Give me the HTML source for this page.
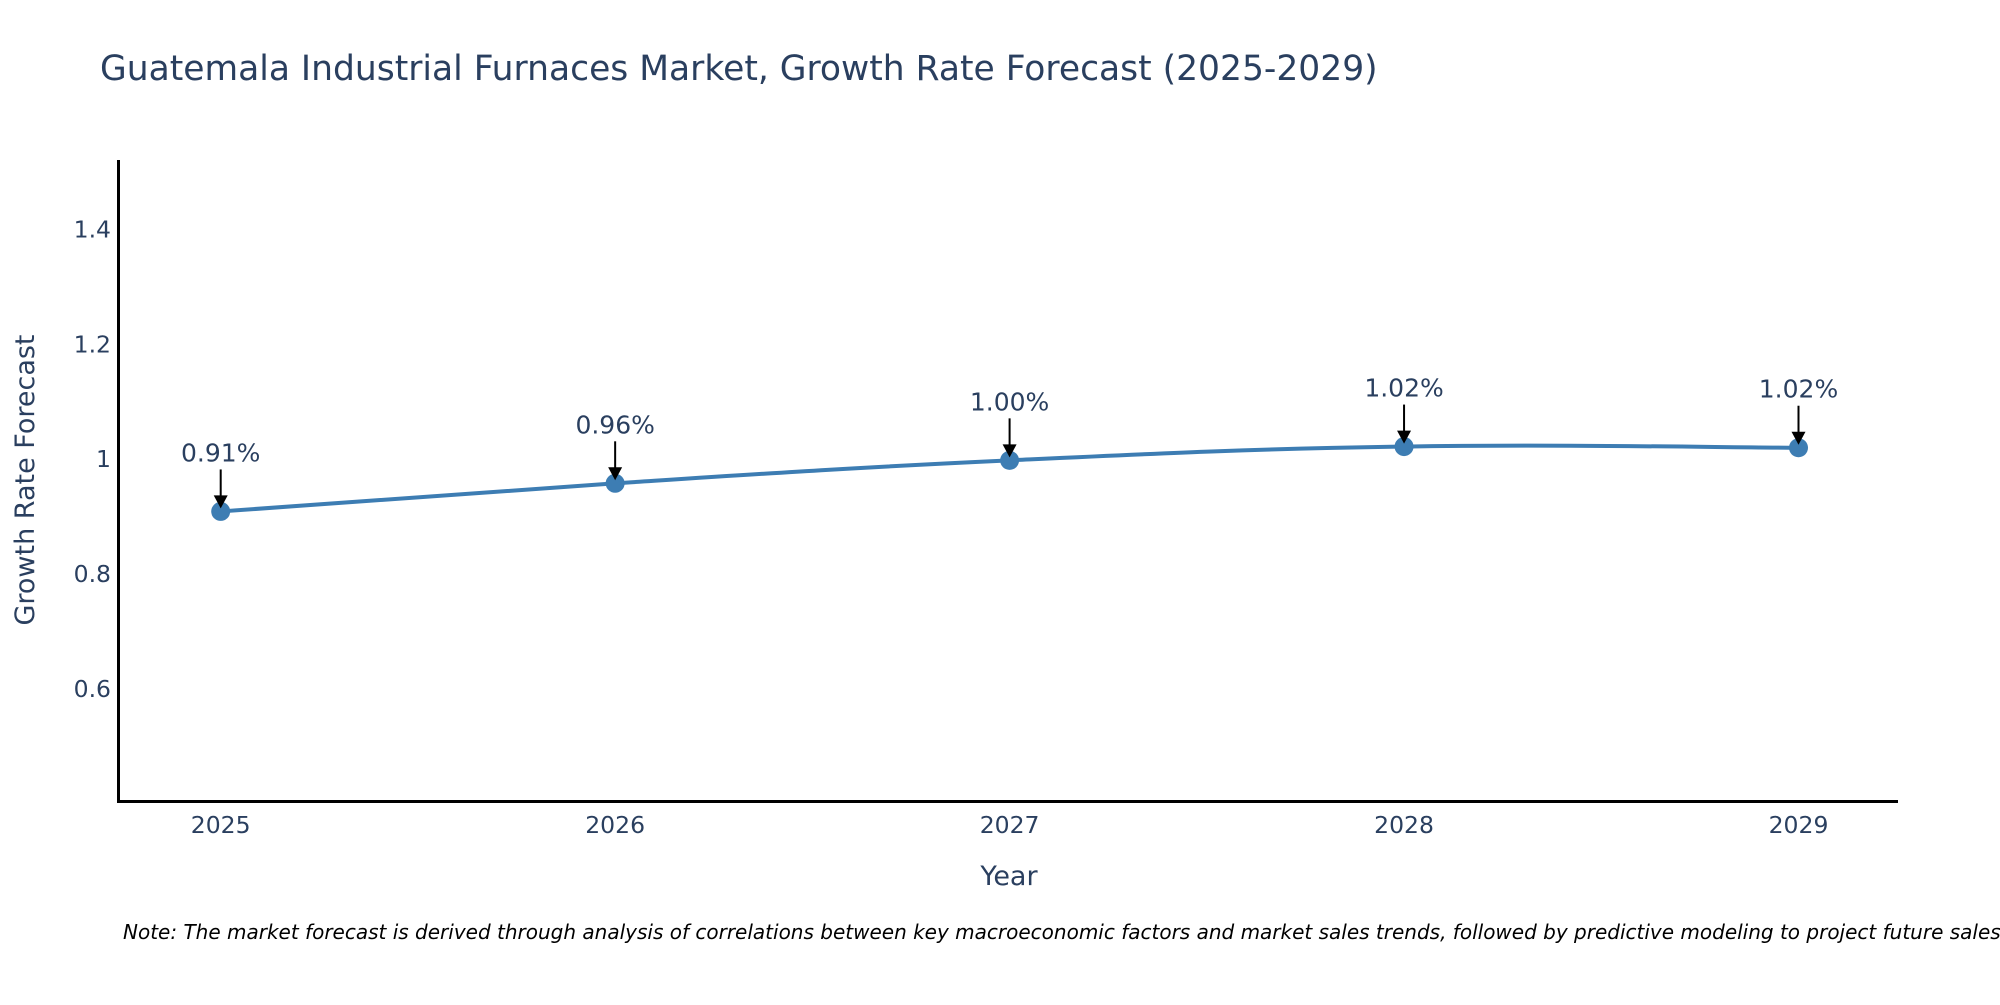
<!DOCTYPE html>
<html><head><meta charset="utf-8"><style>
body{margin:0;background:#fff;}
svg text{font-family:"DejaVu Sans","Liberation Sans",sans-serif;}
</style></head><body>
<svg id="chart" width="2000" height="1000" viewBox="0 0 2000 1000" xmlns="http://www.w3.org/2000/svg">
<rect width="2000" height="1000" fill="#fff"/>
<text x="100" y="80" font-size="34.5" fill="#2a3f5f">Guatemala Industrial Furnaces Market, Growth Rate Forecast (2025-2029)</text>
<g id="yticks"></g>
<g id="xticks"></g>
<line x1="118.5" y1="160" x2="118.5" y2="802" stroke="#000" stroke-width="3"/>
<line x1="117" y1="801.5" x2="1898" y2="801.5" stroke="#000" stroke-width="3"/>
<text transform="translate(34,480) rotate(-90)" text-anchor="middle" font-size="27" fill="#2a3f5f">Growth Rate Forecast</text>
<text x="1009" y="885" text-anchor="middle" font-size="27" fill="#2a3f5f">Year</text>
<g id="series"></g>
<g id="annots"></g>
<text x="123" y="939" font-size="20" font-style="italic" fill="#000">Note: The market forecast is derived through analysis of correlations between key macroeconomic factors and market sales trends, followed by predictive modeling to project future sales.</text>
</svg>
<script>
const years = [2025, 2026, 2027, 2028, 2029];
const values = [0.909, 0.958, 0.998, 1.022, 1.02];
const labels = ["0.91%", "0.96%", "1.00%", "1.02%", "1.02%"];
const yTickVals = [0.6, 0.8, 1, 1.2, 1.4];
const yTickLabels = ["0.6", "0.8", "1", "1.2", "1.4"];

const NS = "http://www.w3.org/2000/svg";
function xs(y){ return 220.7 + (y - 2025) * (1798.5 - 220.7) / 4; }
function ys(v){ return 229.6 + (1.4 - v) * (688.8 - 229.6) / 0.8; }
function mk(tag, attrs, parent){ const e = document.createElementNS(NS, tag); for (const k in attrs) e.setAttribute(k, attrs[k]); parent.appendChild(e); return e; }

const yt = document.getElementById('yticks');
yTickVals.forEach((v, i) => {
  const t = mk('text', {x: 111, y: ys(v) + 8, 'text-anchor': 'end', 'font-size': 23.5, fill: '#2a3f5f'}, yt);
  t.textContent = yTickLabels[i];
  
  
});
const xt = document.getElementById('xticks');
years.forEach(y => {
  const t = mk('text', {x: xs(y), y: 833, 'text-anchor': 'middle', 'font-size': 23.5, fill: '#2a3f5f'}, xt);
  t.textContent = String(y);
  
  
});

const pts = years.map((y, i) => [xs(y), ys(values[i])]);
let d = `M${pts[0][0]},${pts[0][1]}`;
const s = 0.2;
for (let i = 0; i < pts.length - 1; i++) {
  const p0 = pts[i - 1] || pts[i], p1 = pts[i], p2 = pts[i + 1], p3 = pts[i + 2] || p2;
  const c1 = [p1[0] + (p2[0] - p0[0]) * s, p1[1] + (p2[1] - p0[1]) * s];
  const c2 = [p2[0] - (p3[0] - p1[0]) * s, p2[1] - (p3[1] - p1[1]) * s];
  d += ` C${c1[0]},${c1[1]} ${c2[0]},${c2[1]} ${p2[0]},${p2[1]}`;
}
const ser = document.getElementById('series');
const line = mk('path', {d: d, fill: 'none', stroke: '#3d7db3', 'stroke-width': 4}, ser);


pts.forEach(p => {
  const c = mk('circle', {cx: p[0], cy: p[1], r: 9.5, fill: '#3d7db3'}, ser);
  
  
});

const an = document.getElementById('annots');
pts.forEach((p, i) => {
  const top = p[1] - 42;
  mk('line', {x1: p[0], y1: top, x2: p[0], y2: p[1] - 14, stroke: '#000', 'stroke-width': 2}, an);
  mk('path', {d: `M${p[0]-7},${p[1]-16} L${p[0]+7},${p[1]-16} L${p[0]},${p[1]-3} Z`, fill: '#000'}, an);
  const t = mk('text', {x: p[0], y: top - 8, 'text-anchor': 'middle', 'font-size': 25, fill: '#2a3f5f'}, an);
  t.textContent = labels[i];
  
  
});
</script>
</body></html>
